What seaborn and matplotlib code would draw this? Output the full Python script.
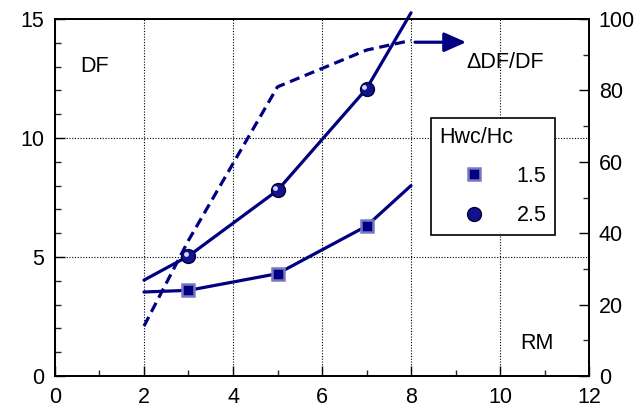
import matplotlib
matplotlib.use("Agg")
import matplotlib.pyplot as plt
import matplotlib.transforms as mtransforms
from matplotlib.lines import Line2D
from matplotlib.ticker import MultipleLocator
import numpy as np
import pandas as pd
import seaborn as sns

# values
RM = [2, 3, 5, 7, 8]
DF_15 = [3.53, 3.6, 4.3, 6.3, 8.0]
DF_25 = [4.03, 5.04, 7.8, 12.07, 15.26]
DELTA_DF = [14.0, 38.0, 81.0, 91.3, 94.0]   # right axis
MARKED_RM = [3, 5, 7]                       # points that carry a marker
ARROW_X = [8.09, 9.24]
ARROW_Y = 93.5

X_TICKS = list(range(0, 13, 2))
Y_TICKS = [0, 5, 10, 15]
Y2_TICKS = list(range(0, 101, 20))
LEGEND_TITLE = "Hwc/Hc"
LEGEND_LABELS = ["1.5", "2.5"]

NAVY = "#000080"
SQ_EDGE = "#7878c0"
BALL = "#12128c"
TICK_FS = 15.5
TEXT_FS = 15.5

sns.set_theme(style="white")
plt.rcParams["font.family"] = ["Liberation Sans", "DejaVu Sans"]
plt.rcParams["font.size"] = TEXT_FS
plt.rcParams["text.color"] = "black"

df = pd.DataFrame({"RM": RM, "DF_15": DF_15, "DF_25": DF_25, "dDF": DELTA_DF})
marked = df[df["RM"].isin(MARKED_RM)]

fig = plt.figure(figsize=(6.35, 4.08), dpi=100)
ax = fig.add_axes([0.0866, 0.0784, 0.841, 0.875])
ax2 = ax.twinx()

# left axis: DF curves
sns.lineplot(data=df, x="RM", y="DF_15", ax=ax, color=NAVY, linewidth=2.3,
             clip_on=False, zorder=3)
sns.lineplot(data=df, x="RM", y="DF_25", ax=ax, color=NAVY, linewidth=2.3,
             clip_on=False, zorder=3)
ax.plot(marked["RM"], marked["DF_15"], ls="none", marker="s", ms=8.5,
        mfc=NAVY, mec=SQ_EDGE, mew=1.8, zorder=4)
ax.plot(marked["RM"], marked["DF_25"], ls="none", marker="o", ms=10,
        mfc=BALL, mec="#00003a", mew=1.0, zorder=4)
# little highlight on the balls
shift = mtransforms.ScaledTranslation(-1.6 / 72, 1.6 / 72, fig.dpi_scale_trans)
ax.plot(marked["RM"], marked["DF_25"], ls="none", marker="o", ms=3.5,
        mfc="#d8d8ff", mec="none", zorder=5, transform=ax.transData + shift)

# right axis: relative change, dashed
sns.lineplot(data=df, x="RM", y="dDF", ax=ax2, color=NAVY, linewidth=2.3,
             dashes=False, zorder=3)
ax2.lines[0].set_dashes((3.2, 1.8))
ax2.annotate("", xy=(ARROW_X[1], ARROW_Y), xytext=(ARROW_X[0], ARROW_Y),
             arrowprops=dict(arrowstyle="-|>,head_length=0.95,head_width=0.42",
                             lw=2.3, color=NAVY, shrinkA=0, shrinkB=0),
             fontsize=14)

ax.set_xlim(0, 12)
ax.set_ylim(0, 15)
ax2.set_ylim(0, 100)
ax.set_xticks(X_TICKS)
ax.set_yticks(Y_TICKS)
ax2.set_yticks(Y2_TICKS)
ax.xaxis.set_minor_locator(MultipleLocator(1))
ax.yaxis.set_minor_locator(MultipleLocator(1))
ax2.yaxis.set_minor_locator(MultipleLocator(10))
ax.set_xlabel("")
ax.set_ylabel("")
ax2.set_ylabel("")

for a in (ax, ax2):
    a.tick_params(which="major", direction="in", length=7, width=1.0,
                  labelsize=TICK_FS, pad=8, colors="black")
    a.tick_params(which="minor", direction="in", length=4, width=1.0)
    for sp in a.spines.values():
        sp.set_color("black")
        sp.set_linewidth(1.3)
ax.tick_params(axis="x", which="both", bottom=True, top=False)
ax.tick_params(axis="y", which="both", left=True, right=False)
ax2.tick_params(axis="y", which="both", right=True, left=False, pad=7)

ax.grid(True, which="major", color="black", linestyle=(0, (1, 1.5)),
        linewidth=0.8)
ax.set_axisbelow(True)

ax.text(0.56, 13.0, "DF", ha="left", va="center", fontsize=TEXT_FS)
ax.text(9.25, 13.19, "\u0394DF/DF", ha="left", va="center", fontsize=TEXT_FS)
ax.text(10.45, 1.35, "RM", ha="left", va="center", fontsize=TEXT_FS)

handles = [
    Line2D([], [], ls="none", marker="s", ms=8.5, mfc=NAVY, mec=SQ_EDGE, mew=1.8),
    Line2D([], [], ls="none", marker="o", ms=10, mfc=BALL, mec="#00003a", mew=1.0),
]
leg = ax2.legend(handles, LEGEND_LABELS, title=LEGEND_TITLE, loc="upper left",
                 bbox_to_anchor=(0.7036, 0.7227), alignment="left",
                 frameon=True, fancybox=False, edgecolor="black", framealpha=1,
                 borderpad=0.4, handlelength=3.2, handletextpad=0.4,
                 labelspacing=0.85, fontsize=TEXT_FS, title_fontsize=TEXT_FS,
                 borderaxespad=0)
leg.get_frame().set_linewidth(1.2)

fig.savefig("out.png", dpi=100)
